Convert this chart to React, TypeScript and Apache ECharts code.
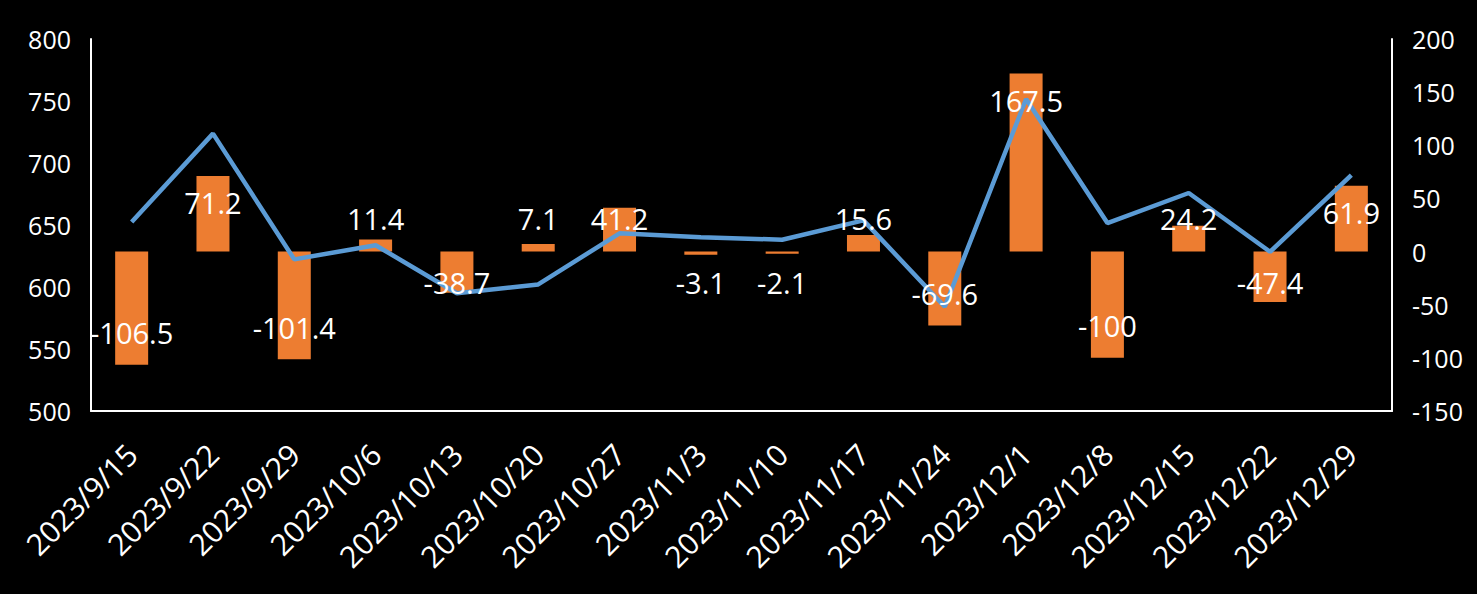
import React, { useEffect, useRef } from "react";
import * as echarts from "echarts";

const categories = [
  "2023/9/15", "2023/9/22", "2023/9/29", "2023/10/6", "2023/10/13", "2023/10/20",
  "2023/10/27", "2023/11/3", "2023/11/10", "2023/11/17", "2023/11/24", "2023/12/1",
  "2023/12/8", "2023/12/15", "2023/12/22", "2023/12/29",
];
const priceValues = [
  652.5, 723.7, 622.3, 633.7, 595.0, 602.1, 643.3, 640.2, 638.1, 653.7, 584.1, 751.6,
  651.6, 675.8, 628.4, 690.3,
];
const changeValues = [
  -106.5, 71.2, -101.4, 11.4, -38.7, 7.1, 41.2, -3.1, -2.1, 15.6, -69.6, 167.5,
  -100, 24.2, -47.4, 61.9,
];

const FONT = "'Open Sans', 'Noto Sans', sans-serif";

export default function App() {
  const ref = useRef<HTMLDivElement>(null);
  useEffect(() => {
    document.body.style.margin = "0";
    document.body.style.background = "#000";
    const chart = echarts.init(ref.current!, null, { renderer: "svg" });
    // label anchors kept inside bar ends but not crossing the zero line
    const labelAnchors = changeValues.map((v, i) => [
      i,
      v >= 0 ? Math.max(v - 25.5, 31) : Math.min(v + 30, -29),
    ]);
    chart.setOption({
      animation: false,
      backgroundColor: "#000",
      grid: { left: 91, right: 85, top: 39, bottom: 183 },
      xAxis: {
        type: "category",
        data: categories,
        axisLine: { show: true, onZero: false, lineStyle: { color: "#fff", width: 2 } },
        axisTick: { show: false },
        axisLabel: {
          color: "#fff",
          fontFamily: FONT,
          fontSize: 30,
          rotate: 45,
          margin: 38,
          interval: 0,
        },
      },
      yAxis: [
        {
          type: "value",
          min: 500,
          max: 800,
          interval: 50,
          position: "left",
          axisLine: { show: true, lineStyle: { color: "#fff", width: 2 } },
          axisTick: { show: false },
          splitLine: { show: false },
          axisLabel: { color: "#fff", fontFamily: FONT, fontSize: 25, margin: 20 },
        },
        {
          type: "value",
          min: -150,
          max: 200,
          interval: 50,
          position: "right",
          axisLine: { show: true, lineStyle: { color: "#fff", width: 2 } },
          axisTick: { show: false },
          splitLine: { show: false },
          axisLabel: { color: "#fff", fontFamily: FONT, fontSize: 25, margin: 20 },
        },
      ],
      series: [
        {
          type: "bar",
          yAxisIndex: 1,
          data: changeValues,
          barWidth: 33,
          itemStyle: { color: "#ED7D31" },
          z: 2,
        },
        {
          type: "line",
          yAxisIndex: 0,
          data: priceValues,
          showSymbol: false,
          symbol: "none",
          lineStyle: { color: "#5B9BD5", width: 4.5 },
          z: 3,
        },
        {
          type: "scatter",
          yAxisIndex: 1,
          data: labelAnchors,
          symbolSize: 1,
          itemStyle: { color: "rgba(0,0,0,0)", opacity: 1 },
          z: 5,
          label: {
            show: true,
            position: "inside",
            color: "#fff",
            opacity: 1,
            textBorderWidth: 0,
            fontFamily: FONT,
            fontSize: 29,
            formatter: (p: any) => String(changeValues[p.dataIndex]),
          },
        },
      ],
    });
    return () => chart.dispose();
  }, []);
  return <div ref={ref} style={{ width: 1477, height: 594, background: "#000" }} />;
}
